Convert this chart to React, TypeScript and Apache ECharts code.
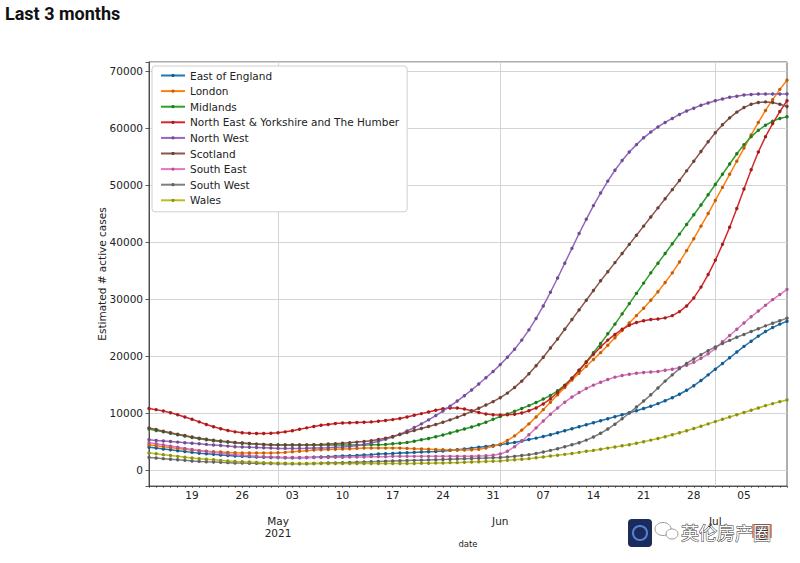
import React, { useEffect, useRef } from "react";
import * as echarts from "echarts";

// ---- categories (daily dates, 2021-04-13 .. 2021-07-11) ----
const START_YEAR = 2021;
const START_MONTH = 3; // April (0-based)
const START_DAY = 13;
const N_DAYS = 90;
const dates: string[] = Array.from({ length: N_DAYS }, (_, i) =>
  new Date(Date.UTC(START_YEAR, START_MONTH, START_DAY + i)).toISOString().slice(0, 10)
);

// month (major) tick labels
const monthTicks: string[] = ["2021-05-01", "2021-06-01", "2021-07-01"];
const monthTickLabels: string[] = ["May\n2021", "Jun", "Jul"];

const seriesNames: string[] = [
  "East of England",
  "London",
  "Midlands",
  "North East & Yorkshire and The Humber",
  "North West",
  "Scotland",
  "South East",
  "South West",
  "Wales",
];

const eastOfEngland: number[] = [
  4000, 3850, 3700, 3550, 3400, 3250, 3100, 2950, 2850, 2750,
  2650, 2550, 2450, 2400, 2350, 2300, 2250, 2200, 2200, 2150,
  2150, 2150, 2200, 2250, 2300, 2350, 2400, 2450, 2500, 2550,
  2650, 2700, 2800, 2850, 2900, 3000, 3050, 3100, 3150, 3200,
  3250, 3350, 3450, 3550, 3700, 3850, 4000, 4150, 4300, 4450,
  4650, 4850, 5100, 5350, 5600, 5900, 6200, 6550, 6900, 7250,
  7600, 7950, 8300, 8650, 9000, 9350, 9700, 10050, 10400, 10800,
  11200, 11650, 12150, 12700, 13300, 14000, 14800, 15700, 16700, 17700,
  18700, 19700, 20700, 21700, 22600, 23500, 24300, 25000, 25600, 26100,
];

const london: number[] = [
  4400, 4250, 4100, 3950, 3800, 3650, 3500, 3400, 3300, 3200,
  3150, 3100, 3050, 3000, 3000, 3000, 3000, 3000, 3050, 3100,
  3200, 3300, 3400, 3500, 3550, 3600, 3650, 3700, 3750, 3800,
  3850, 3850, 3850, 3850, 3850, 3850, 3800, 3750, 3700, 3650,
  3600, 3550, 3500, 3500, 3500, 3550, 3650, 3850, 4150, 4550,
  5200, 6000, 7000, 8100, 9300, 10600, 11900, 13200, 14500, 15800,
  17000, 18200, 19400, 20600, 21900, 23200, 24500, 25800, 27100, 28400,
  29800, 31300, 32900, 34600, 36500, 38500, 40600, 42800, 45000, 47300,
  49600, 51900, 54200, 56500, 58800, 61000, 63100, 65000, 66800, 68400,
];

const midlands: number[] = [
  7200, 6950, 6700, 6450, 6200, 5950, 5700, 5500, 5300, 5150,
  5000, 4900, 4800, 4700, 4620, 4550, 4500, 4450, 4420, 4400,
  4400, 4400, 4400, 4400, 4400, 4400, 4400, 4400, 4400, 4400,
  4400, 4420, 4450, 4500, 4600, 4700, 4850, 5050, 5300, 5550,
  5850, 6150, 6500, 6850, 7200, 7550, 7950, 8400, 8900, 9400,
  9850, 10300, 10800, 11300, 11850, 12450, 13100, 13900, 14900, 16100,
  17500, 19000, 20600, 22200, 23900, 25600, 27400, 29200, 31000, 32800,
  34600, 36300, 38000, 39700, 41400, 43100, 44800, 46500, 48300, 50100,
  51900, 53700, 55500, 57100, 58500, 59600, 60500, 61200, 61700, 62000,
];

const northEastYorkshire: number[] = [
  10800, 10600, 10350, 10050, 9700, 9300, 8900, 8450, 8000, 7600,
  7250, 6950, 6700, 6550, 6450, 6400, 6400, 6450, 6550, 6700,
  6900, 7150, 7400, 7650, 7850, 8000, 8150, 8250, 8300, 8350,
  8400, 8450, 8550, 8700, 8850, 9050, 9300, 9600, 9900, 10200,
  10500, 10750, 10900, 10900, 10700, 10400, 10100, 9850, 9700, 9650,
  9700, 9800, 10000, 10400, 10900, 11600, 12500, 13600, 14800, 16100,
  17500, 18900, 20300, 21600, 22800, 23800, 24700, 25400, 25900, 26200,
  26400, 26500, 26700, 27100, 27800, 28800, 30200, 32100, 34300, 36800,
  39600, 42600, 45900, 49300, 52700, 55800, 58500, 60800, 62900, 64800,
];

const northWest: number[] = [
  5300, 5200, 5100, 5000, 4900, 4800, 4700, 4600, 4500, 4400,
  4300, 4200, 4100, 4050, 4000, 3950, 3900, 3850, 3800, 3800,
  3800, 3800, 3820, 3850, 3880, 3920, 3980, 4050, 4150, 4300,
  4500, 4750, 5050, 5400, 5800, 6300, 6850, 7450, 8100, 8800,
  9550, 10350, 11200, 12100, 13050, 14050, 15100, 16200, 17300, 18500,
  19800, 21200, 22800, 24600, 26600, 28800, 31200, 33700, 36300, 38900,
  41500, 44000, 46400, 48600, 50700, 52600, 54300, 55800, 57100, 58300,
  59300, 60200, 61000, 61700, 62400, 63000, 63500, 64000, 64400, 64800,
  65100, 65400, 65600, 65800, 65900, 66000, 66000, 66000, 66000, 66000,
];

const scotland: number[] = [
  7400, 7100, 6800, 6550, 6300, 6050, 5800, 5600, 5400, 5250,
  5100, 4950, 4850, 4750, 4650, 4550, 4500, 4450, 4400, 4400,
  4400, 4400, 4420, 4450, 4500, 4560, 4630, 4700, 4800, 4900,
  5000, 5150, 5350, 5600, 5900, 6250, 6600, 6950, 7300, 7650,
  8000, 8400, 8800, 9250, 9750, 10300, 10850, 11400, 12000, 12700,
  13500, 14500, 15600, 16900, 18300, 19800, 21400, 23000, 24700, 26400,
  28100, 29800, 31500, 33200, 34800, 36400, 38000, 39600, 41200, 42800,
  44400, 46000, 47600, 49200, 50800, 52500, 54200, 55900, 57600, 59200,
  60600, 61800, 62800, 63600, 64200, 64500, 64600, 64500, 64200, 63800,
];

const southEast: number[] = [
  4800, 4600, 4400, 4200, 4000, 3800, 3600, 3400, 3250, 3100,
  2950, 2800, 2700, 2600, 2500, 2400, 2350, 2300, 2250, 2200,
  2200, 2200, 2200, 2200, 2200, 2200, 2250, 2250, 2300, 2300,
  2300, 2350, 2350, 2350, 2400, 2400, 2400, 2400, 2400, 2400,
  2400, 2400, 2400, 2400, 2400, 2400, 2450, 2500, 2600, 2800,
  3300, 4100, 5100, 6200, 7400, 8600, 9800, 10900, 11900, 12800,
  13600, 14300, 14900, 15400, 15900, 16300, 16600, 16800, 17000, 17100,
  17200, 17300, 17500, 17700, 18000, 18400, 18900, 19600, 20400, 21300,
  22500, 23600, 24700, 25800, 26900, 27900, 28900, 29900, 30800, 31700,
];

const southWest: number[] = [
  2200, 2100, 2000, 1900, 1800, 1700, 1600, 1520, 1450, 1400,
  1350, 1300, 1250, 1230, 1200, 1170, 1150, 1130, 1100, 1100,
  1100, 1100, 1120, 1150, 1180, 1220, 1260, 1300, 1340, 1380,
  1420, 1460, 1500, 1540, 1580, 1620, 1660, 1700, 1740, 1780,
  1820, 1860, 1900, 1940, 1980, 2020, 2060, 2100, 2150, 2200,
  2300, 2400, 2550, 2700, 2900, 3150, 3450, 3750, 4100, 4450,
  4800, 5250, 5800, 6450, 7200, 8050, 9000, 10000, 11050, 12100,
  13200, 14400, 15600, 16700, 17800, 18700, 19500, 20250, 20950, 21600,
  22200, 22750, 23300, 23800, 24300, 24800, 25300, 25750, 26200, 26650,
];

const wales: number[] = [
  3000, 2850, 2700, 2550, 2400, 2250, 2100, 2000, 1900, 1800,
  1700, 1600, 1500, 1450, 1400, 1350, 1300, 1250, 1200, 1200,
  1150, 1150, 1150, 1150, 1150, 1150, 1150, 1150, 1150, 1150,
  1150, 1150, 1150, 1150, 1150, 1150, 1150, 1150, 1200, 1200,
  1250, 1250, 1300, 1300, 1350, 1400, 1450, 1500, 1550, 1600,
  1700, 1800, 1900, 2000, 2150, 2300, 2450, 2600, 2750, 2900,
  3100, 3300, 3450, 3650, 3850, 4050, 4250, 4450, 4700, 4950,
  5250, 5550, 5850, 6200, 6550, 6900, 7300, 7700, 8100, 8500,
  8900, 9300, 9700, 10100, 10500, 10900, 11300, 11650, 12000, 12300,
];

const seriesData: number[][] = [
  eastOfEngland, london, midlands, northEastYorkshire, northWest,
  scotland, southEast, southWest, wales,
];

const lineColors: string[] = [
  "#1f77b4", "#ff7f0e", "#2ca02c", "#d62728", "#9467bd",
  "#8c564b", "#e377c2", "#7f7f7f", "#bcbd22",
];

function darken(hex: string, f: number): string {
  const n = parseInt(hex.slice(1), 16);
  const r = Math.round(((n >> 16) & 255) * f);
  const g = Math.round(((n >> 8) & 255) * f);
  const b = Math.round((n & 255) * f);
  return `rgb(${r},${g},${b})`;
}

const FONT = "'DejaVu Sans', sans-serif";

export default function App() {
  const ref = useRef<HTMLDivElement>(null);

  useEffect(() => {
    if (!ref.current) return;
    const chart = echarts.init(ref.current, undefined, { renderer: "svg" });

    const isMonday = (v: string) => new Date(v + "T00:00:00Z").getUTCDay() === 1;
    const isMonthStart = (v: string) => monthTicks.indexOf(v) >= 0;

    const option: any = {
      animation: false,
      backgroundColor: "#ffffff",
      textStyle: { fontFamily: FONT },
      title: {
        text: "Last 3 months",
        left: 5,
        top: 4,
        padding: 0,
        textStyle: {
          fontFamily: "Roboto, 'Noto Sans', sans-serif",
          fontWeight: "bold",
          fontSize: 18,
          color: "#111",
        },
      },
      grid: {
        left: 149,
        top: 62,
        right: 13,
        bottom: 77,
        show: true,
        borderColor: "#333",
        borderWidth: 0.8,
        backgroundColor: "transparent",
      },
      legend: {
        orient: "vertical",
        left: 152,
        top: 66,
        padding: [3, 8, 5, 8],
        itemGap: 2.6,
        itemWidth: 24,
        itemHeight: 4,
        backgroundColor: "#fff",
        borderColor: "#d0d0d0",
        borderWidth: 1,
        borderRadius: 3,
        data: seriesNames,
        textStyle: { fontFamily: FONT, fontSize: 10.5, color: "#222", lineHeight: 13 },
      },
      xAxis: [
        {
          type: "category",
          data: dates,
          boundaryGap: false,
          axisLine: { show: true, onZero: false, lineStyle: { color: "#333", width: 0.8 } },
          axisTick: { show: true, interval: 0, length: 2, lineStyle: { color: "#333", width: 0.6 } },
          axisLabel: {
            interval: (_i: number, v: string) => isMonday(v),
            formatter: (v: string) => v.slice(8, 10),
            fontFamily: FONT,
            fontSize: 10.5,
            color: "#222",
            margin: 3,
          },
          splitLine: { show: false },
          name: "date",
          nameLocation: "middle",
          nameGap: 53,
          nameMoveOverlap: false,
          nameTextStyle: { fontFamily: FONT, fontSize: 8.5, color: "#222" },
        },
        {
          type: "category",
          data: dates,
          boundaryGap: false,
          position: "bottom",
          axisLine: { show: false, onZero: false },
          axisTick: { show: false },
          axisLabel: {
            interval: (_i: number, v: string) => isMonthStart(v),
            formatter: (v: string) => monthTickLabels[monthTicks.indexOf(v)] || "",
            fontFamily: FONT,
            fontSize: 10.5,
            lineHeight: 12,
            color: "#222",
            margin: 29,
          },
          splitLine: {
            show: true,
            interval: (_i: number, v: string) => isMonthStart(v),
            lineStyle: { color: "#d4d4d4", width: 1 },
          },
        },
      ],
      yAxis: {
        type: "value",
        min: -2800,
        max: 71600,
        minInterval: 10000,
        maxInterval: 10000,
        axisLine: { show: true, onZero: false, lineStyle: { color: "#333", width: 0.8 } },
        axisTick: { show: true, length: 3.5, lineStyle: { color: "#333", width: 0.8 } },
        axisLabel: {
          formatter: (v: number) => (v % 10000 === 0 ? String(v) : ""),
          fontFamily: FONT,
          fontSize: 10.5,
          color: "#222",
          margin: 6,
        },
        splitLine: { show: true, lineStyle: { color: "#d4d4d4", width: 1 } },
        name: "Estimated # active cases",
        nameLocation: "middle",
        nameGap: 42,
        nameMoveOverlap: false,
        nameRotate: 90,
        nameTextStyle: { fontFamily: FONT, fontSize: 10.5, color: "#222" },
      },
      series: seriesNames.map((name, k) => ({
        name,
        type: "line",
        data: seriesData[k],
        xAxisIndex: 0,
        symbol: "circle",
        symbolSize: 3.4,
        showSymbol: true,
        showAllSymbol: true,
        lineStyle: { width: 1.5, color: lineColors[k] },
        itemStyle: { color: darken(lineColors[k], 0.75), borderWidth: 0 },
        emphasis: { disabled: true },
      })),
      graphic: [
        {
          type: "group",
          z: 100,
          children: [
            { type: "rect", shape: { x: 628, y: 519, width: 24, height: 28, r: 4 }, style: { fill: "#1c2b5c" } },
            { type: "circle", shape: { cx: 640, cy: 533, r: 7 }, style: { fill: "none", stroke: "#4f86d9", lineWidth: 2 } },
            { type: "ellipse", shape: { cx: 663, cy: 529, rx: 8, ry: 6.5 }, style: { fill: "#fff", stroke: "#9a9a9a", lineWidth: 1 } },
            { type: "ellipse", shape: { cx: 672, cy: 534, rx: 6, ry: 5 }, style: { fill: "#fff", stroke: "#9a9a9a", lineWidth: 1 } },
            { type: "rect", shape: { x: 752, y: 524, width: 20, height: 14 }, style: { fill: "#e98c7c" } },
            {
              type: "text",
              x: 681,
              y: 532,
              style: {
                text: "英伦房产圈",
                fontFamily: "'Noto Sans CJK SC', sans-serif",
                fontSize: 18,
                fill: "#ffffff",
                stroke: "#333333",
                lineWidth: 1,
                verticalAlign: "middle",
                align: "left",
              },
            },
          ],
        },
      ],
    };

    chart.setOption(option);
    return () => chart.dispose();
  }, []);

  return (
    <div
      ref={ref}
      style={{ position: "fixed", left: 0, top: 0, width: 800, height: 563, background: "#fff" }}
    />
  );
}
